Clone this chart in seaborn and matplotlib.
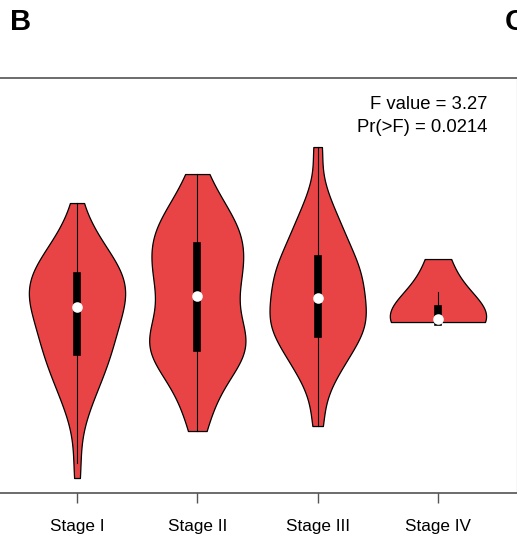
import matplotlib
matplotlib.use("Agg")
import matplotlib.pyplot as plt
import numpy as np
import pandas as pd
import seaborn as sns

# Expression values per tumour stage
stages = ["Stage I", "Stage II", "Stage III", "Stage IV"]

stage_i = [0.28, 0.58,
           1.30, 1.53, 1.70, 1.82, 1.92, 2.02, 2.10, 2.18, 2.25, 2.33,
           2.39, 2.45, 2.50, 2.56, 2.62, 2.68, 2.73, 2.78,
           2.80, 2.85, 2.90, 2.95, 3.00, 3.05, 3.10, 3.15, 3.20, 3.24,
           3.28, 3.32, 3.36, 3.40, 3.45, 3.49, 3.53, 3.57, 3.62, 3.66,
           3.70, 3.73, 3.77, 3.80, 3.84, 3.87, 3.91, 3.94, 3.97, 4.00,
           4.03, 4.05, 4.08, 4.11, 4.14, 4.17, 4.20, 4.23, 4.26, 4.29,
           4.32, 4.36, 4.40, 4.44, 4.48, 4.52, 4.56, 4.60, 4.64, 4.68,
           4.73, 4.78, 4.83, 4.89, 4.95, 5.02, 5.10, 5.22, 5.35, 5.50,
           5.78]
stage_ii = [1.22, 1.62, 1.90, 2.12, 2.30, 2.45, 2.57, 2.67, 2.75, 2.82,
            2.88, 2.95, 3.02, 3.09, 3.17, 3.26, 3.37, 3.50, 3.64, 3.78,
            3.92, 4.03, 4.13, 4.23, 4.33, 4.43, 4.53, 4.63, 4.73, 4.83,
            4.92, 5.01, 5.10, 5.19, 5.29, 5.39, 5.50, 5.63, 5.79, 6.02,
            6.36]
stage_iii = [1.32, 1.90, 2.25, 2.42, 2.56, 2.68, 2.80, 2.90, 2.99, 3.08,
             3.16, 3.24, 3.30, 3.36, 3.43, 3.50, 3.57, 3.64, 3.71, 3.80,
             3.88, 3.96, 4.03, 4.10, 4.18, 4.26, 4.34, 4.42, 4.50, 4.58,
             4.66, 4.76, 4.87, 4.98, 5.10, 5.23, 5.38, 5.56, 5.72, 6.12,
             6.90]
stage_iv = [3.40, 3.40, 3.40, 3.41, 3.42, 3.44, 3.46, 3.50, 3.56, 3.66,
            4.00, 4.50, 4.66]

f_value = 3.27
p_value = 0.0214

# kernel bandwidth scaling for each stage
bw_scale = [1.05, 0.8, 0.68, 1.9]

groups = [stage_i, stage_ii, stage_iii, stage_iv]
df = pd.DataFrame({
    "stage": np.repeat(stages, [len(g) for g in groups]),
    "value": np.concatenate(groups),
})

plt.rcParams["font.family"] = ["Liberation Sans", "DejaVu Sans"]

fig = plt.figure(figsize=(5.17, 5.39), dpi=100)
ax = fig.add_axes([0.0, 0.0853, 1.0, 0.7699])

violin_red = "#E84446"
for stage, bw in zip(stages, bw_scale):
    sns.violinplot(
        data=df[df["stage"] == stage], x="stage", y="value", order=stages,
        color=violin_red, saturation=1, cut=0, density_norm="width",
        width=0.8, bw_adjust=bw, linewidth=0.9, linecolor="black",
        inner="box",
        inner_kws=dict(box_width=5.5, whis_width=0.8, marker="o",
                       markersize=6.5),
        ax=ax,
    )

ax.set_xlim(-0.64, 3.657)
ax.set_ylim(-0.02, 8.28)
ax.set_xlabel("")
ax.set_ylabel("")
ax.set_yticks([])
ax.spines["left"].set_visible(False)
for side in ("top", "bottom"):
    ax.spines[side].set_color("#444444")
    ax.spines[side].set_linewidth(1.1)
ax.spines["right"].set_color("#d9d9d9")
ax.spines["right"].set_linewidth(1.0)
ax.tick_params(axis="x", length=7, width=1, color="#555555", pad=12,
               labelsize=12.3, labelcolor="black")

fig.text(0.942, 0.807, f"F value = {f_value}", ha="right", va="center",
         fontsize=13.3)
fig.text(0.942, 0.764, f"Pr(>F) = {p_value}", ha="right", va="center",
         fontsize=13.3)

fig.text(10 / 517, 1 - 22.5 / 539, "B", ha="left", va="center",
         fontsize=21, fontweight="bold")
fig.text(505 / 517, 1 - 22.5 / 539, "C", ha="left", va="center",
         fontsize=21, fontweight="bold")

fig.savefig("out.png", dpi=100)
